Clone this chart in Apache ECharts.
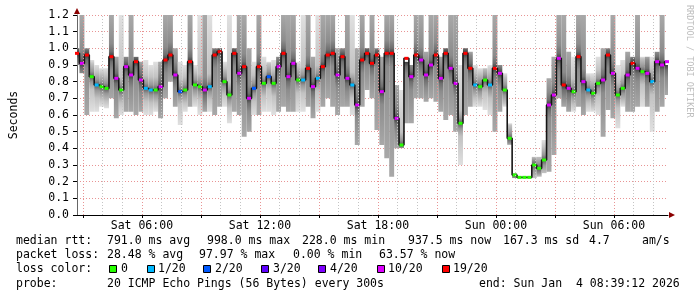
<!DOCTYPE html>
<html><head><meta charset="utf-8">
<script src="https://cdn.jsdelivr.net/npm/echarts@6/dist/echarts.min.js"></script>
<style>html,body{margin:0;padding:0;background:#fff}#c{width:697px;height:297px}</style>
</head><body><div id="c"></div>
<script>
// time axis: hours since Sat 00:00
const START_HOUR = 2.7;      // first sample, Sat 02:42
const STEP_HOURS = 0.25;     // one sample per 15 min
const X_MIN = 2.7, X_MAX = 32.75;

const median = [
0.97,0.91,0.96,0.83,0.78,0.77,0.76,0.95,0.82,0.75,
0.89,0.84,0.92,0.81,0.76,0.75,0.75,0.77,0.93,0.96,
0.84,0.74,0.75,0.92,0.78,0.77,0.75,0.77,0.96,0.98,
0.80,0.72,0.97,0.85,0.89,0.70,0.76,0.89,0.79,0.83,
0.79,0.89,0.97,0.83,0.91,0.81,0.81,0.88,0.77,0.82,
0.89,0.96,0.97,0.84,0.95,0.82,0.78,0.66,0.93,0.97,
0.91,0.96,0.74,0.97,0.97,0.58,0.42,0.94,0.83,0.96,
0.93,0.84,0.90,0.96,0.82,0.97,0.88,0.79,0.55,0.97,
0.88,0.78,0.77,0.81,0.78,0.88,0.85,0.75,0.46,0.24,
0.226,0.226,0.226,0.30,0.28,0.33,0.66,0.72,0.94,0.78,
0.76,0.74,0.95,0.80,0.75,0.73,0.79,0.81,0.96,0.85,
0.72,0.76,0.84,0.91,0.88,0.86,0.85,0.80,0.92,0.90,
0.92];

const smokeLow = [
0.90,0.85,0.60,0.62,0.62,0.65,0.64,0.70,0.58,0.60,
0.62,0.62,0.60,0.62,0.60,0.60,0.62,0.58,0.70,0.80,
0.65,0.54,0.62,0.65,0.65,0.60,0.62,0.62,0.60,0.65,
0.65,0.55,0.62,0.60,0.47,0.50,0.60,0.60,0.62,0.62,
0.60,0.62,0.65,0.62,0.62,0.62,0.62,0.65,0.58,0.62,
0.65,0.70,0.65,0.60,0.65,0.65,0.60,0.42,0.65,0.75,
0.70,0.51,0.42,0.34,0.23,0.40,0.40,0.55,0.55,0.70,
0.70,0.68,0.70,0.68,0.62,0.57,0.60,0.50,0.30,0.60,
0.65,0.65,0.65,0.63,0.60,0.50,0.62,0.65,0.42,0.22,
0.22,0.22,0.22,0.22,0.23,0.25,0.26,0.36,0.70,0.65,
0.62,0.62,0.65,0.60,0.62,0.62,0.60,0.47,0.63,0.58,
0.52,0.65,0.62,0.62,0.65,0.65,0.65,0.50,0.62,0.65,
0.72];

const smokeHigh = [
1.00,1.20,1.00,0.93,0.90,0.88,0.88,1.20,0.95,1.20,
0.95,1.20,0.95,0.92,0.93,0.90,0.92,0.92,1.20,1.20,
1.00,0.92,0.90,1.20,0.90,1.20,1.20,1.20,1.00,1.00,
0.92,1.20,1.00,1.20,1.20,1.00,0.92,1.20,0.95,0.92,
0.93,0.95,1.20,1.20,1.20,0.92,1.20,1.20,0.95,1.20,
1.20,1.20,1.20,1.00,1.00,1.20,1.20,1.00,1.20,1.00,
1.20,1.00,0.95,1.20,1.20,0.78,0.75,0.92,0.90,1.20,
1.20,0.98,1.20,1.20,0.95,1.00,1.20,1.20,0.90,1.00,
0.98,0.90,0.88,0.88,0.90,1.20,0.90,0.85,0.55,0.25,
0.23,0.23,0.23,0.35,0.35,0.45,0.82,0.95,1.20,1.20,
0.98,0.95,1.20,1.20,0.85,0.85,0.95,1.00,1.00,1.20,
0.90,0.93,0.98,0.95,1.20,0.95,0.95,0.95,0.98,1.20,
0.90];

// lost pings out of 20 per sample
const lossCount = [
19,10,19,0,1,0,0,19,10,0,
10,10,19,10,1,1,0,10,19,19,
10,2,0,19,0,0,10,1,19,19,
0,0,19,10,19,10,2,19,0,2,
0,10,19,10,10,0,1,19,10,1,
19,19,19,10,19,10,1,10,19,19,
19,19,10,19,19,10,0,19,10,19,
10,10,10,19,10,19,10,10,0,19,
19,1,0,0,1,19,10,0,0,0,
0,0,0,0,0,0,10,10,10,19,
10,0,19,10,1,0,0,10,19,10,
0,0,10,19,10,0,10,1,10,10,
10];

const xLabelHours = [6, 12, 18, 24, 30];
const xLabelTexts = ['Sat 06:00', 'Sat 12:00', 'Sat 18:00', 'Sun 00:00', 'Sun 06:00'];

const lossLevels = [0, 1, 2, 3, 4, 10, 19];
const lossLabels = ['0', '1/20', '2/20', '3/20', '4/20', '10/20', '19/20'];
const lossColors = ['#26ff00', '#00b8ff', '#0059ff', '#5e00ff', '#7e00ff', '#dd00ff', '#ff0000'];

const rttStats = ['median rtt:', '791.0 ms avg', '998.0 ms max', '228.0 ms min', '937.5 ms now', '167.3 ms sd', '4.7', 'am/s'];
const lossStats = ['packet loss:', '28.48 % avg', '97.97 % max', '0.00 % min', '63.57 % now'];
const probeTexts = ['probe:', '20 ICMP Echo Pings (56 Bytes) every 300s', 'end: Sun Jan  4 08:39:12 2026'];
const lossColorTitle = 'loss color:';
const yAxisTitle = 'Seconds';
const watermark = 'RRDTOOL / TOBI OETIKER';

function lossColor(n) {
  let c = lossColors[0];
  for (let k = 0; k < lossLevels.length; k++) if (n >= lossLevels[k]) c = lossColors[k];
  return c;
}

const FONT = '"DejaVu Sans Mono", "Liberation Mono", monospace';
const chart = echarts.init(document.getElementById('c'), null, {renderer: 'canvas'});

const times = median.map((_, i) => START_HOUR + i * STEP_HOURS);
const smokeData = median.map((m, i) => [times[i], smokeLow[i], smokeHigh[i], m, lossCount[i]]);
const medianData = median.map((m, i) => ({value: [times[i], m], itemStyle: {color: lossColor(lossCount[i])}}));

const gridHours = [];
for (let h = 3; h <= 32; h++) gridHours.push(h);

const graphics = [];
function txt(s, x, y) {
  graphics.push({type: 'text', x: x, y: y, silent: true, style: {text: s, font: '11.5px ' + FONT, fill: '#000', align: 'left', verticalAlign: 'middle'}});
}
const rttX = [16, 107, 207, 302, 408, 503, 589, 642];
rttStats.forEach((s, i) => txt(s, rttX[i], 241));
const lossX = [16, 107, 199, 293, 379];
lossStats.forEach((s, i) => txt(s, lossX[i], 255));
txt(lossColorTitle, 16, 269);
const boxX = [109, 147, 203, 261, 318, 377, 442];
const boxLabelX = [121, 158, 215, 273, 330, 388, 453];
lossLabels.forEach((s, i) => {
  graphics.push({type: 'rect', silent: true, shape: {x: boxX[i] + 0.5, y: 265.5, width: 7, height: 7}, style: {fill: lossColors[i], stroke: '#000', lineWidth: 1}});
  txt(s, boxLabelX[i], 269);
});
const probeX = [16, 107, 479];
probeTexts.forEach((s, i) => txt(s, probeX[i], 284));
graphics.push({type: 'text', x: 689, y: 5, rotation: -Math.PI / 2, silent: true,
  style: {text: watermark, font: '8.5px ' + FONT, fill: '#bdbdbd', align: 'left', verticalAlign: 'middle'}});

function clamp01(v) { return Math.min(1, Math.max(0, v)); }

const option = {
  animation: false,
  backgroundColor: '#fff',
  grid: {left: 67, right: 29, top: 15, bottom: 82, containLabel: false},
  xAxis: {
    type: 'value', min: X_MIN, max: X_MAX,
    axisLine: {show: true, onZero: false, lineStyle: {color: '#000', width: 1}},
    axisTick: {show: true, customValues: gridHours.filter(h => h % 3 === 0), length: 3, lineStyle: {color: '#000'}},
    axisLabel: {show: true, customValues: xLabelHours, margin: 5, color: '#000', fontFamily: FONT, fontSize: 11.5,
      formatter: v => { const k = xLabelHours.indexOf(Math.round(v)); return k >= 0 ? xLabelTexts[k] : ''; }},
    splitLine: {show: false}
  },
  yAxis: {
    type: 'value', min: 0, max: 1.2, interval: 0.1,
    name: yAxisTitle, nameLocation: 'middle', nameGap: 57,
    nameTextStyle: {fontFamily: FONT, fontSize: 11.5, color: '#000'},
    axisLine: {show: true, lineStyle: {color: '#666', width: 1}},
    axisTick: {show: true, length: 4, lineStyle: {color: '#000'}},
    axisLabel: {margin: 8, color: '#000', fontFamily: FONT, fontSize: 11.5, formatter: v => v.toFixed(1)},
    splitLine: {show: true, lineStyle: {color: '#e89494', type: [1, 2], width: 1}}
  },
  series: [
    {
      type: 'line', data: [], z: 1, silent: true,
      markLine: {
        silent: true, symbol: ['none', 'none'], label: {show: false}, animation: false,
        data: gridHours.map(h => ({xAxis: h, lineStyle: {color: h % 3 === 0 ? '#e89494' : '#c4c4c4', type: [1, 2], width: 1}}))
      }
    },
    {
      type: 'custom', z: 2, clip: true, silent: true,
      data: smokeData,
      encode: {x: 0, y: [1, 2]},
      renderItem: function (params, api) {
        const t = api.value(0), lo = api.value(1), hi = api.value(2), med = api.value(3), loss = api.value(4);
        const top = api.coord([t, hi]), bot = api.coord([t, lo]), mid = api.coord([t, med]);
        const w = api.size([STEP_HOURS, 0])[0];
        const h = Math.max(1, bot[1] - top[1]);
        const m = clamp01((mid[1] - top[1]) / h);
        const heavy = loss >= 10;
        const cDark = heavy ? '#3a3a3a' : '#5c5c5c';
        const cMid = heavy ? '#6e6e6e' : '#969696';
        const cSoft = heavy ? '#8c8c8c' : '#c2c2c2';
        const cLight = heavy ? '#a8a8a8' : '#e0e0e0';
        const d1 = 5 / h, d2 = 13 / h;
        const stops = [
          {offset: 0, color: cLight},
          {offset: clamp01(m - d2), color: cSoft},
          {offset: clamp01(m - d1), color: cMid},
          {offset: m, color: cDark},
          {offset: clamp01(m + d1), color: cMid},
          {offset: clamp01(m + d2), color: cSoft},
          {offset: 1, color: cLight}
        ];
        return {type: 'rect', shape: {x: top[0] - w / 2, y: top[1], width: w, height: h},
          style: {fill: new echarts.graphic.LinearGradient(0, 0, 0, 1, stops)}};
      }
    },
    {
      type: 'line', z: 3, silent: true, data: medianData, step: 'middle',
      symbol: 'rect', symbolSize: [4, 3], showSymbol: true, showAllSymbol: true,
      lineStyle: {color: '#151515', width: 1.6},
      itemStyle: {borderWidth: 0}
    }
  ],
  graphic: graphics
};
chart.setOption(option);

// axis arrows (dark red), placed via the chart's own scales
const pTop = chart.convertToPixel({gridIndex: 0}, [X_MIN, 1.2]);
const pRight = chart.convertToPixel({gridIndex: 0}, [X_MAX, 0]);
graphics.push({type: 'polygon', silent: true, shape: {points: [[pTop[0] - 3, pTop[1] - 1], [pTop[0] + 3, pTop[1] - 1], [pTop[0], pTop[1] - 7]]}, style: {fill: '#8b0000'}});
graphics.push({type: 'polygon', silent: true, shape: {points: [[pRight[0] + 1, pRight[1] - 3], [pRight[0] + 1, pRight[1] + 3], [pRight[0] + 7, pRight[1]]]}, style: {fill: '#8b0000'}});
chart.setOption({graphic: graphics});
</script>
</body></html>
